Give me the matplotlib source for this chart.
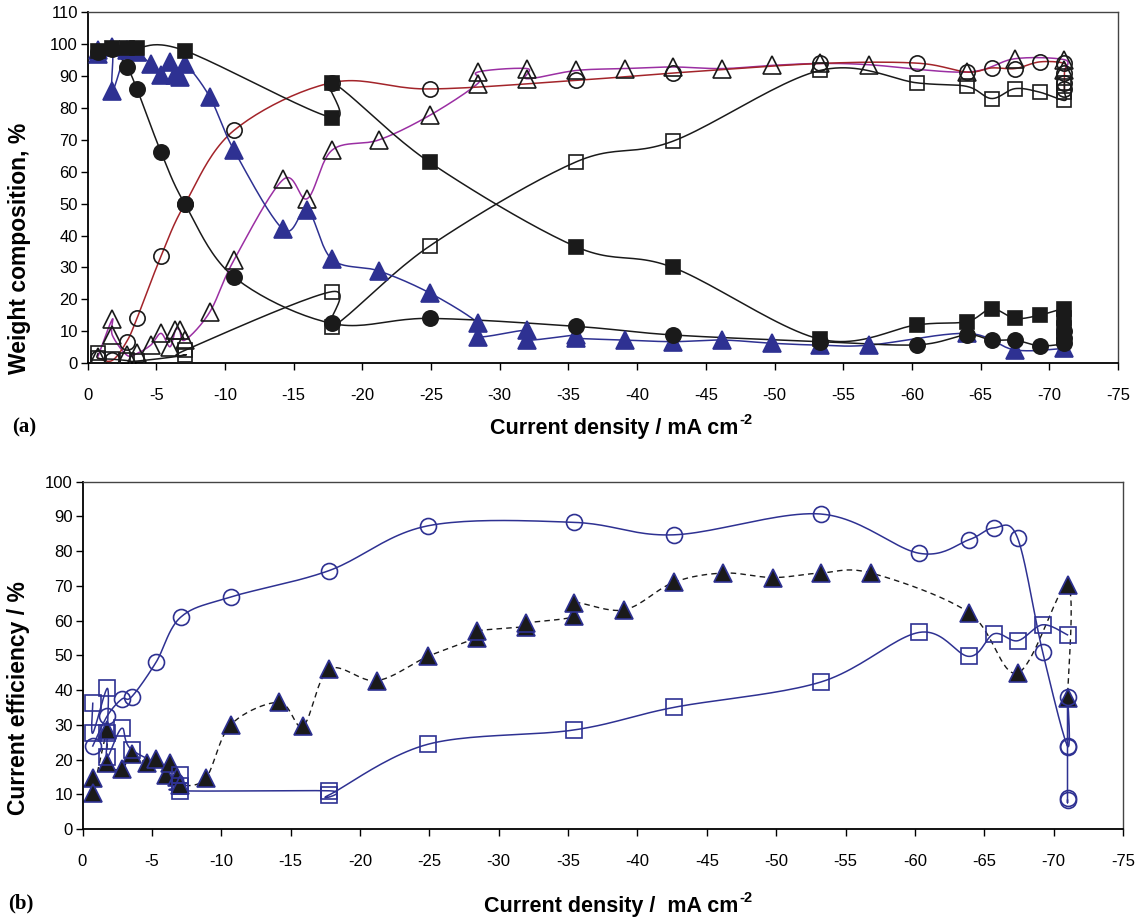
import numpy as np
import matplotlib
matplotlib.use("Agg")
import matplotlib.pyplot as plt

plt.rcParams['font.family'] = ['Liberation Sans', 'DejaVu Sans']
plt.rcParams['axes.unicode_minus'] = False

# ---------------- Panel (a): weight composition ----------------
a_fsq_x = [-0.76, -1.8, -2.85, -3.6, -7.1, -17.8, -17.8, -24.9, -35.55, -42.6, -53.3, -60.4, -64.0, -65.8, -67.5, -69.3, -71.1, -71.1, -71.1, -71.1]
a_fsq_y = [98, 99, 99, 99, 98, 77, 88, 63, 36.5, 30, 7.5, 12, 13, 17, 14, 15, 17, 14, 11, 8]

a_fci_x = [-0.76, -1.8, -2.85, -3.6, -5.35, -7.1, -10.66, -17.8, -24.9, -35.55, -42.6, -53.3, -60.4, -64.0, -65.8, -67.5, -69.3, -71.1, -71.1, -71.1]
a_fci_y = [97.5, 98.5, 93, 86, 66.2, 49.8, 27, 12.4, 14, 11.5, 8.8, 6.7, 5.7, 8.8, 7.2, 7.2, 5.4, 6.2, 8, 10]

a_oci_x = [-0.76, -1.8, -2.85, -3.6, -5.35, -7.1, -10.66, -17.8, -24.9, -35.55, -42.6, -53.3, -60.4, -64.0, -65.8, -67.5, -69.3, -71.1, -71.1, -71.1, -71.1]
a_oci_y = [1.5, 0.8, 6.7, 14, 33.5, 50, 73, 88, 86, 88.7, 91, 94, 94.1, 91.3, 92.6, 92.4, 94.5, 94, 91, 88, 86]

a_otr_x = [-0.76, -1.8, -1.8, -2.85, -3.6, -4.6, -5.35, -6.0, -6.4, -6.7, -7.1, -8.9, -10.66, -14.25, -16.0, -17.8, -21.2, -24.9, -28.4, -28.4, -32.0, -32.0, -35.55, -39.1, -42.6, -46.2, -49.8, -53.3, -56.9, -64.0, -67.5, -71.1, -71.1]
a_otr_y = [2, 13.7, 8.8, 2.5, 3, 5.6, 9.3, 5.1, 10.3, 10.3, 7.2, 16, 32.3, 57.6, 51.6, 66.8, 70, 77.7, 87.7, 91.3, 92.4, 89.2, 91.8, 92.4, 92.9, 92.4, 93.4, 94, 93.6, 91.3, 95.5, 95.2, 92]

a_osq_x = [-0.76, -0.76, -1.8, -2.85, -3.6, -7.1, -7.1, -17.8, -17.8, -24.9, -35.55, -42.6, -53.3, -60.4, -64.0, -65.8, -67.5, -69.3, -71.1, -71.1, -71.1]
a_osq_y = [3, 1.5, 1.2, 0.8, 0.6, 2.5, 4, 22.4, 11.4, 36.7, 63.1, 69.6, 91.8, 87.9, 86.8, 83, 86.1, 85, 82.4, 85, 88]

a_btr_x = [-0.76, -0.76, -1.8, -1.8, -2.85, -3.6, -4.6, -5.35, -6.0, -6.4, -6.7, -7.1, -8.9, -10.66, -14.25, -16.0, -17.8, -21.2, -24.9, -28.4, -28.4, -32.0, -32.0, -35.55, -35.55, -39.1, -42.6, -46.2, -49.8, -53.3, -56.9, -64.0, -67.5, -71.1]
a_btr_y = [97, 98.3, 99.2, 85.4, 98.1, 97.6, 93.7, 90.3, 94.5, 90.3, 89.7, 93.7, 83.5, 66.8, 41.9, 48, 32.5, 28.9, 22, 12.6, 8.2, 10.3, 7.2, 8.8, 7.8, 7.2, 6.7, 7.2, 6.2, 5.6, 5.6, 9.3, 4.1, 4.6]

# ---------------- Panel (b): current efficiency ----------------
b_ci_x = [-0.74, -1.79, -2.83, -3.55, -5.3, -7.08, -10.68, -17.77, -24.9, -35.4, -42.6, -53.2, -60.3, -63.9, -65.7, -67.4, -69.2, -71.0, -71.0, -71.0, -71.0, -71.0]
b_ci_y = [23.9, 32.6, 37.4, 38.1, 48, 61, 66.8, 74.4, 87.3, 88.3, 84.7, 90.7, 79.4, 83.3, 86.7, 83.8, 51.1, 23.9, 38.1, 23.5, 8.8, 8.3]

b_sq_x = [-0.74, -0.74, -1.79, -1.79, -1.79, -2.83, -3.55, -7.03, -7.03, -7.03, -17.77, -17.77, -24.9, -35.4, -42.6, -53.2, -60.3, -63.9, -65.7, -67.4, -69.2, -71.0]
b_sq_y = [36.2, 27.6, 40.5, 27.6, 20.7, 29, 22.8, 15.6, 12.5, 11.0, 11.0, 9.8, 24.4, 28.5, 35, 42.3, 56.6, 49.7, 56.2, 54.2, 58.8, 55.9]

b_tr_x = [-0.74, -0.74, -1.79, -1.79, -2.83, -3.55, -4.63, -5.3, -6.02, -6.3, -6.8, -7.03, -8.88, -10.68, -14.17, -15.9, -17.77, -21.2, -24.9, -28.4, -28.4, -31.95, -31.95, -35.46, -35.46, -39.06, -42.6, -46.2, -49.8, -53.2, -56.85, -63.9, -67.4, -71.0, -71.0]
b_tr_y = [14.6, 10.5, 28.5, 18.9, 17.2, 21.5, 18.9, 20.1, 15.6, 18.9, 15.1, 12.7, 14.6, 30, 36.5, 29.7, 46, 42.7, 49.7, 55.1, 57, 58.3, 59.3, 61.2, 65.2, 63.1, 71, 73.7, 72.4, 73.7, 73.7, 62.3, 44.9, 70.3, 37.8]

x_ticks = [0, -5, -10, -15, -20, -25, -30, -35, -40, -45, -50, -55, -60, -65, -70, -75]
x_ticklabels = [str(v) for v in x_ticks]
a_yticks = list(range(0, 111, 10))
b_yticks = list(range(0, 101, 10))

BLUE = '#2E3192'
RED = '#A3242A'
PURPLE = '#9B2FA3'
BLACK = '#1a1a1a'


def smooth(xs, ys, n=24):
    """Excel-like smoothed line: cubic Bezier with Catmull-Rom control points."""
    P = np.column_stack([xs, ys]).astype(float)
    m = len(P)
    out = [P[0:1]]
    t = np.linspace(0, 1, n)[1:, None]
    for i in range(m - 1):
        p0 = P[i - 1] if i > 0 else P[i]
        p1 = P[i]
        p2 = P[i + 1]
        p3 = P[i + 2] if i + 2 < m else P[i + 1]
        c1 = p1 + (p2 - p0) / 6.0
        c2 = p2 - (p3 - p1) / 6.0
        seg = ((1 - t) ** 3) * p1 + 3 * ((1 - t) ** 2) * t * c1 + 3 * (1 - t) * t ** 2 * c2 + t ** 3 * p2
        out.append(seg)
    C = np.vstack(out)
    return C[:, 0], C[:, 1]


def series(ax, xs, ys, lc, marker, mfc, mec, ms, ls='-', lw=1.1, z=2):
    sx, sy = smooth(xs, ys)
    ax.plot(sx, sy, color=lc, lw=lw, ls=ls, zorder=z)
    ax.plot(xs, ys, ls='none', marker=marker, mfc=mfc, mec=mec, ms=ms, mew=1.2, zorder=z + 0.5)


def style_axes(ax, yticks, ylim):
    ax.set_xlim(0, -75)
    ax.set_ylim(*ylim)
    ax.set_xticks(x_ticks)
    ax.set_xticklabels(x_ticklabels)
    ax.set_yticks(yticks)
    ax.tick_params(direction='out', length=5, width=1, labelsize=12, colors='black', pad=13, axis='x')
    ax.tick_params(direction='out', length=5, width=1, labelsize=12, colors='black', pad=2, axis='y')
    for s in ['left', 'bottom']:
        ax.spines[s].set_linewidth(1.3)
        ax.spines[s].set_color('black')
    for s in ['top', 'right']:
        ax.spines[s].set_linewidth(1.0)
        ax.spines[s].set_color('#444444')


W, H = 1141, 918
fig = plt.figure(figsize=(W / 100, H / 100), dpi=100)

axA = fig.add_axes([87.5 / W, 1 - 363 / H, (1118 - 87.5) / W, (363 - 12.5) / H])
axB = fig.add_axes([82.5 / W, 1 - 829 / H, (1123 - 82.5) / W, (829 - 481.7) / H])

# panel a
series(axA, a_otr_x, a_otr_y, PURPLE, '^', 'none', BLACK, 12.5, z=2)
series(axA, a_oci_x, a_oci_y, RED, 'o', 'none', BLACK, 11, z=2.2)
series(axA, a_osq_x, a_osq_y, BLACK, 's', 'none', BLACK, 10.5, z=2.4)
series(axA, a_btr_x, a_btr_y, BLUE, '^', BLUE, BLUE, 12.5, z=3)
series(axA, a_fci_x, a_fci_y, BLACK, 'o', BLACK, BLACK, 11, z=3.2)
series(axA, a_fsq_x, a_fsq_y, BLACK, 's', BLACK, BLACK, 10.5, z=3.4)
style_axes(axA, a_yticks, (0, 110))

# panel b
series(axB, b_tr_x, b_tr_y, BLACK, '^', BLACK, BLUE, 12.5, ls=(0, (4, 3)), lw=1.0, z=2)
series(axB, b_sq_x, b_sq_y, BLUE, 's', 'none', BLUE, 11, z=2.2)
series(axB, b_ci_x, b_ci_y, BLUE, 'o', 'none', BLUE, 11.5, z=2.4)
style_axes(axB, b_yticks, (0, 100))

# y-axis titles
fig.text(20 / W, 1 - 248 / H, 'Weight composition, %', fontsize=16.5, fontweight='bold',
         rotation=90, ha='center', va='center')
fig.text(19 / W, 1 - 698 / H, 'Current efficiency / %', fontsize=16.5, fontweight='bold',
         rotation=90, ha='center', va='center')

renderer = fig.canvas.get_renderer()


def xlabel_with_sup(main, sup, cx, cy, fs=15.5):
    t = fig.text(0, cy, main, fontsize=fs, fontweight='bold', ha='left', va='baseline')
    s = fig.text(0, cy, sup, fontsize=fs * 0.68, fontweight='bold', ha='left', va='baseline')
    bt = t.get_window_extent(renderer)
    bs = s.get_window_extent(renderer)
    total = bt.width + 1 + bs.width
    x0 = cx * W - total / 2
    t.set_x(x0 / W)
    s.set_x((x0 + bt.width + 1) / W)
    s.set_y(cy + 0.45 * fs * 100 / 72 / H)


xlabel_with_sup('Current density / mA cm', '-2', 621 / W, 1 - 434 / H)
xlabel_with_sup('Current density /  mA cm', '-2', 618 / W, 1 - 912 / H)

fig.text(24.5 / W, 1 - 427 / H, '(a)', fontsize=15, fontweight='bold', family='Liberation Serif',
         ha='center', va='center')
fig.text(21 / W, 1 - 903 / H, '(b)', fontsize=15, fontweight='bold', family='Liberation Serif',
         ha='center', va='center')

fig.savefig('out.png', dpi=100)
